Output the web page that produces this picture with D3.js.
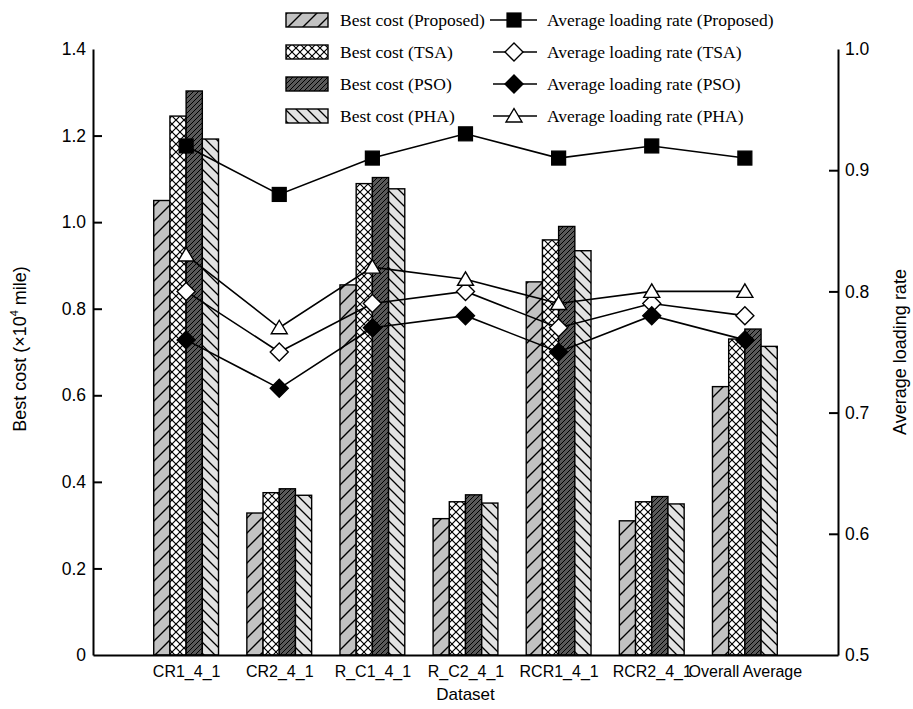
<!DOCTYPE html>
<html>
<head>
<meta charset="utf-8">
<script src="https://cdn.jsdelivr.net/npm/d3@7"></script>
<style>
  body { margin: 0; background: #fff; }
  text { font-family: "Liberation Sans", Arial, sans-serif; fill: #000; }
  .legend text { font-family: "Liberation Serif", "Times New Roman", serif; }
</style>
</head>
<body>
<div id="chart"></div>
<script>
const categories = ["CR1_4_1", "CR2_4_1", "R_C1_4_1", "R_C2_4_1", "RCR1_4_1", "RCR2_4_1", "Overall Average"];

// best cost (x10^4 mile), left axis
const costProposed = [1.05, 0.328, 0.855, 0.315, 0.862, 0.310, 0.620];
const costTSA      = [1.245, 0.375, 1.089, 0.354, 0.959, 0.354, 0.730];
const costPSO      = [1.303, 0.384, 1.103, 0.370, 0.990, 0.366, 0.753];
const costPHA      = [1.192, 0.369, 1.077, 0.351, 0.934, 0.349, 0.713];

// average loading rate, right axis
const rateProposed = [0.92, 0.88, 0.91, 0.93, 0.91, 0.92, 0.91];
const rateTSA      = [0.80, 0.75, 0.79, 0.80, 0.77, 0.79, 0.78];
const ratePSO      = [0.76, 0.72, 0.77, 0.78, 0.75, 0.78, 0.76];
const ratePHA      = [0.83, 0.77, 0.82, 0.81, 0.79, 0.80, 0.80];

const leftTicks = [0, 0.2, 0.4, 0.6, 0.8, 1.0, 1.2, 1.4];
const rightTicks = [0.5, 0.6, 0.7, 0.8, 0.9, 1.0];

const barSeries = [
  {name: "Best cost (Proposed)", values: costProposed, fill: "url(#patProposed)"},
  {name: "Best cost (TSA)", values: costTSA, fill: "url(#patTSA)"},
  {name: "Best cost (PSO)", values: costPSO, fill: "url(#patPSO)"},
  {name: "Best cost (PHA)", values: costPHA, fill: "url(#patPHA)"}
];
const lineSeries = [
  {name: "Average loading rate (Proposed)", values: rateProposed, shape: "square", fill: "#000"},
  {name: "Average loading rate (TSA)", values: rateTSA, shape: "diamond", fill: "#fff"},
  {name: "Average loading rate (PSO)", values: ratePSO, shape: "diamond", fill: "#000"},
  {name: "Average loading rate (PHA)", values: ratePHA, shape: "triangle", fill: "#fff"}
];

const width = 913, height = 709;
const margin = {top: 49, right: 75, bottom: 54, left: 93};

const svg = d3.select("#chart").append("svg")
    .attr("width", width)
    .attr("height", height);

// hatch patterns
const defs = svg.append("defs");
function hatch(id, size, bg, lines, sw) {
  const p = defs.append("pattern")
      .attr("id", id)
      .attr("patternUnits", "userSpaceOnUse")
      .attr("width", size).attr("height", size);
  p.append("rect").attr("width", size).attr("height", size).attr("fill", bg);
  lines.forEach(l => {
    p.append("path").attr("d", l).attr("stroke", "#000").attr("stroke-width", sw).attr("fill", "none");
  });
}
const fwd = s => `M0,${s} L${s},0 M${-s/2},${s/2} L${s/2},${-s/2} M${s/2},${s*1.5} L${s*1.5},${s/2}`;
const back = s => `M0,0 L${s},${s} M${-s/2},${s/2} L${s/2},${s*1.5} M${s/2},${-s/2} L${s*1.5},${s/2}`;
hatch("patProposed", 15, "#c2c2c2", [fwd(15)], 1.4);
hatch("patTSA", 8, "#fff", [fwd(8), back(8)], 1.2);
hatch("patPSO", 5, "#5a5a5a", [fwd(5)], 1);
hatch("patPHA", 11, "#e2e2e2", [back(11)], 1.3);

const x = d3.scaleLinear()
    .domain([0, 8])
    .range([margin.left, width - margin.right]);

const inner = d3.scaleBand()
    .domain(d3.range(barSeries.length))
    .range([-32.4, 32.4]);

const yLeft = d3.scaleLinear()
    .domain([0, 1.4])
    .range([height - margin.bottom, margin.top]);

const yRight = d3.scaleLinear()
    .domain([0.5, 1.0])
    .range([height - margin.bottom, margin.top]);

// bars
barSeries.forEach((s, j) => {
  svg.append("g").selectAll("rect")
    .data(s.values)
    .join("rect")
      .attr("x", (d, i) => x(i + 1) + inner(j))
      .attr("y", d => yLeft(d))
      .attr("width", inner.bandwidth())
      .attr("height", d => yLeft(0) - yLeft(d))
      .attr("fill", s.fill)
      .attr("stroke", "#000")
      .attr("stroke-width", 1.4);
});

// axes
const xAxis = svg.append("g")
    .attr("transform", `translate(0,${height - margin.bottom})`)
    .call(d3.axisBottom(x).tickValues(d3.range(1, 8)).tickSize(0).tickSizeOuter(0).tickPadding(11)
      .tickFormat((d, i) => categories[i]));
xAxis.select(".domain").attr("stroke-width", 2);
xAxis.selectAll("text").attr("font-size", 16).attr("font-family", null);

const yAxisL = svg.append("g")
    .attr("transform", `translate(${margin.left},0)`)
    .call(d3.axisLeft(yLeft).tickValues(leftTicks).tickSizeInner(-9).tickSizeOuter(0).tickPadding(7)
      .tickFormat(d => d === 0 ? "0" : d3.format(".1f")(d)));
yAxisL.select(".domain").attr("stroke-width", 2);
yAxisL.selectAll("line").attr("stroke-width", 2).filter(d => d === 1.4 || d === 0).remove();
yAxisL.selectAll("text").attr("font-size", 17.5).attr("font-family", null);

const yAxisR = svg.append("g")
    .attr("transform", `translate(${width - margin.right},0)`)
    .call(d3.axisRight(yRight).tickValues(rightTicks).tickSizeInner(-9).tickSizeOuter(0).tickPadding(7)
      .tickFormat(d3.format(".1f")));
yAxisR.select(".domain").attr("stroke-width", 2);
yAxisR.selectAll("line").attr("stroke-width", 2).filter(d => d === 1.0 || d === 0.5).remove();
yAxisR.selectAll("text").attr("font-size", 17.5).attr("font-family", null);

// axis titles
svg.append("text")
    .attr("x", (margin.left + width - margin.right) / 2)
    .attr("y", 700)
    .attr("text-anchor", "middle")
    .attr("font-size", 17)
    .text("Dataset");

const lt = svg.append("text")
    .attr("transform", "translate(26,349) rotate(-90)")
    .attr("text-anchor", "middle")
    .attr("font-size", 18);
lt.append("tspan").text("Best cost (×10");
lt.append("tspan").attr("font-size", 11).attr("dy", -8).text("4");
lt.append("tspan").attr("dy", 8).text(" mile)");

svg.append("text")
    .attr("transform", "translate(906,352) rotate(-90)")
    .attr("text-anchor", "middle")
    .attr("font-size", 18)
    .text("Average loading rate");

// marker shapes
function marker(sel, shape, fill) {
  if (shape === "square") {
    sel.append("rect").attr("x", -7).attr("y", -7).attr("width", 14).attr("height", 14)
      .attr("fill", fill).attr("stroke", "#000").attr("stroke-width", 1.2);
  } else if (shape === "diamond") {
    sel.append("path").attr("d", "M0,-9 L9,0 L0,9 L-9,0 Z")
      .attr("fill", fill).attr("stroke", "#000").attr("stroke-width", 1.4);
  } else {
    sel.append("path").attr("d", "M0,-7.5 L8,6 L-8,6 Z")
      .attr("fill", fill).attr("stroke", "#000").attr("stroke-width", 1.4);
  }
}

// lines
const line = d3.line()
    .x((d, i) => x(i + 1))
    .y(d => yRight(d));

lineSeries.forEach(s => {
  svg.append("path")
      .datum(s.values)
      .attr("d", line)
      .attr("fill", "none")
      .attr("stroke", "#000")
      .attr("stroke-width", 1.6);
});
lineSeries.forEach(s => {
  s.values.forEach((v, i) => {
    const g = svg.append("g").attr("transform", `translate(${x(i + 1)},${yRight(v)})`);
    marker(g, s.shape, s.fill);
  });
});

// legend
const legend = svg.append("g").attr("class", "legend");
const rowY = [20, 52, 84, 116];
barSeries.forEach((s, j) => {
  legend.append("rect")
      .attr("x", 286).attr("y", rowY[j] - 7)
      .attr("width", 42).attr("height", 14)
      .attr("fill", s.fill)
      .attr("stroke", "#000").attr("stroke-width", 1.4);
  legend.append("text")
      .attr("x", 340).attr("y", rowY[j])
      .attr("dy", "0.35em")
      .attr("font-size", 17.5)
      .text(s.name);
});
lineSeries.forEach((s, j) => {
  legend.append("line")
      .attr("x1", j === 0 ? 490 : 493).attr("x2", 537)
      .attr("y1", rowY[j]).attr("y2", rowY[j])
      .attr("stroke", "#000").attr("stroke-width", 1.6);
  const g = legend.append("g").attr("transform", `translate(514,${rowY[j]})`);
  marker(g, s.shape, s.fill);
  legend.append("text")
      .attr("x", 547).attr("y", rowY[j])
      .attr("dy", "0.35em")
      .attr("font-size", 17.5)
      .text(s.name);
});
</script>
</body>
</html>
